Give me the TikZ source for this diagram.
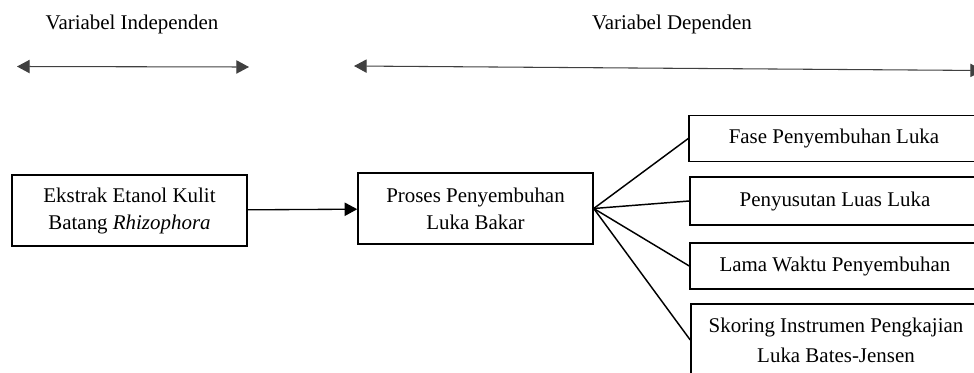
\documentclass[tikz,border=0pt]{standalone}
\usepackage{fontspec}
\setmainfont{Liberation Serif}
\usetikzlibrary{arrows.meta}

\tikzset{
    kotak/.style={draw, line width=1.1pt, align=center, inner sep=0pt,
        font=\fontsize{15.7}{20.25}\selectfont},
    judul/.style={font=\fontsize{15.7}{20.25}\selectfont},
    panah/.style={line width=0.8pt, draw=black!75, {Triangle[length=9.5pt,width=10pt]}-{Triangle[length=9.5pt,width=10pt]}}
}

\begin{document}
\begin{tikzpicture}[x=0.75pt,y=-0.75pt]
            \useasboundingbox (0,0) rectangle (974,372);

            \node[judul] (indep) at (132,24) {Variabel Independen};
            \node[judul] (dep) at (672,24) {Variabel Dependen};

            \coordinate (a) at (17,66.5);
            \coordinate (b) at (249,67);
            \coordinate (c) at (354,66);
            \coordinate (d) at (983,70.5);

            \draw[panah] (a)--(b);
            \draw[panah] (c)--(d);

            \node[kotak, minimum width=176.25pt, minimum height=53.25pt] (ekstrak) at (129.5,210.5)
                {Ekstrak Etanol Kulit\\Batang \textit{Rhizophora}};
            \node[kotak, minimum width=176.25pt, minimum height=53.25pt] (proses) at (475.5,208.5)
                {Proses Penyembuhan\\Luka Bakar};

            \node[kotak, minimum width=217.5pt, minimum height=34.5pt] (fase) at (834,138.5) {Fase Penyembuhan Luka};
            \node[kotak, minimum width=217.5pt, minimum height=36pt] (susut) at (835,201) {Penyusutan Luas Luka};
            \node[kotak, minimum width=217.5pt, minimum height=34.5pt] (lama) at (835,266) {Lama Waktu Penyembuhan};
            \node[kotak, minimum width=217.5pt, minimum height=54pt,
                font=\fontsize{15.7}{22.5}\selectfont] (skor) at (836,340)
                {Skoring Instrumen Pengkajian\\Luka Bates-Jensen};

            \draw[line width=1pt, -{Triangle[length=9.5pt,width=10pt]}] (ekstrak)--(proses);

            \foreach \p in {fase,susut,lama,skor}{
                \draw[line width=1.1pt] (proses.east)--(\p.west);
            }
        \end{tikzpicture}
\end{document}
